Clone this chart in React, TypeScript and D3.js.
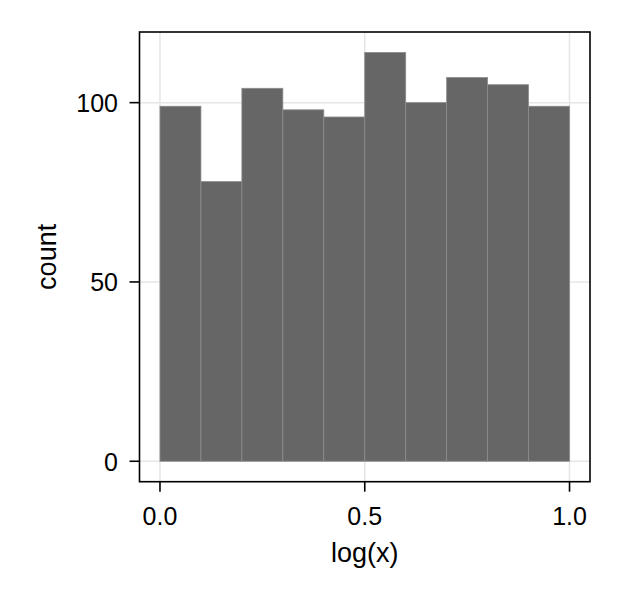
import React from "react";
import * as d3 from "d3";

const binEdges = [0, 0.1, 0.2, 0.3, 0.4, 0.5, 0.6, 0.7, 0.8, 0.9, 1.0];
const counts = [99, 78, 104, 98, 96, 114, 100, 107, 105, 99];
const xTicks = [0, 0.5, 1.0];
const yTicks = [0, 50, 100];
const xLabel = "log(x)";
const yLabel = "count";

export default function App() {
  const W = 622, H = 600;
  const left = 139.5, right = 590, top = 32, bottom = 481.7;
  const x = d3.scaleLinear().domain([-0.05, 1.05]).range([left, right]);
  const ymax = d3.max(counts) as number;
  const y = d3.scaleLinear().domain([-0.05 * ymax, 1.05 * ymax]).range([bottom, top]);
  const font = "'Liberation Sans', Arial, sans-serif";
  const tickSize = 25;
  const labelSize = 27;
  return (
    <svg width={W} height={H} style={{ position: "absolute", left: 0, top: 0, background: "#fff" }}>
      <rect x={0} y={0} width={W} height={H} fill="#fff" />
      {xTicks.map((t) => (
        <line key={"gx" + t} x1={x(t)} x2={x(t)} y1={top} y2={bottom} stroke="#e6e6e6" strokeWidth={1.5} />
      ))}
      {yTicks.map((t) => (
        <line key={"gy" + t} x1={left} x2={right} y1={y(t)} y2={y(t)} stroke="#e6e6e6" strokeWidth={1.5} />
      ))}
      {counts.map((c, i) => (
        <rect
          key={i}
          x={x(binEdges[i])}
          y={y(c)}
          width={x(binEdges[i + 1]) - x(binEdges[i])}
          height={y(0) - y(c)}
          fill="#666666"
          stroke="#8c8c8c"
          strokeWidth={0.8}
        />
      ))}
      <rect x={left} y={top} width={right - left} height={bottom - top} fill="none" stroke="#000" strokeWidth={1.6} />
      {xTicks.map((t) => (
        <g key={"tx" + t}>
          <line x1={x(t)} x2={x(t)} y1={bottom} y2={bottom + 10} stroke="#000" strokeWidth={1.6} />
          <text x={x(t)} y={525} textAnchor="middle" fontFamily={font} fontSize={tickSize} fill="#000">
            {d3.format(".1f")(t)}
          </text>
        </g>
      ))}
      {yTicks.map((t) => (
        <g key={"ty" + t}>
          <line x1={left - 10} x2={left} y1={y(t)} y2={y(t)} stroke="#000" strokeWidth={1.6} />
          <text x={118} y={y(t) + 9.5} textAnchor="end" fontFamily={font} fontSize={tickSize} fill="#000">
            {t}
          </text>
        </g>
      ))}
      <text x={(left + right) / 2} y={562} textAnchor="middle" fontFamily={font} fontSize={labelSize} fill="#000">
        {xLabel}
      </text>
      <text
        transform={`translate(56, ${(top + bottom) / 2}) rotate(-90)`}
        textAnchor="middle"
        fontFamily={font}
        fontSize={labelSize}
        fill="#000"
      >
        {yLabel}
      </text>
    </svg>
  );
}
